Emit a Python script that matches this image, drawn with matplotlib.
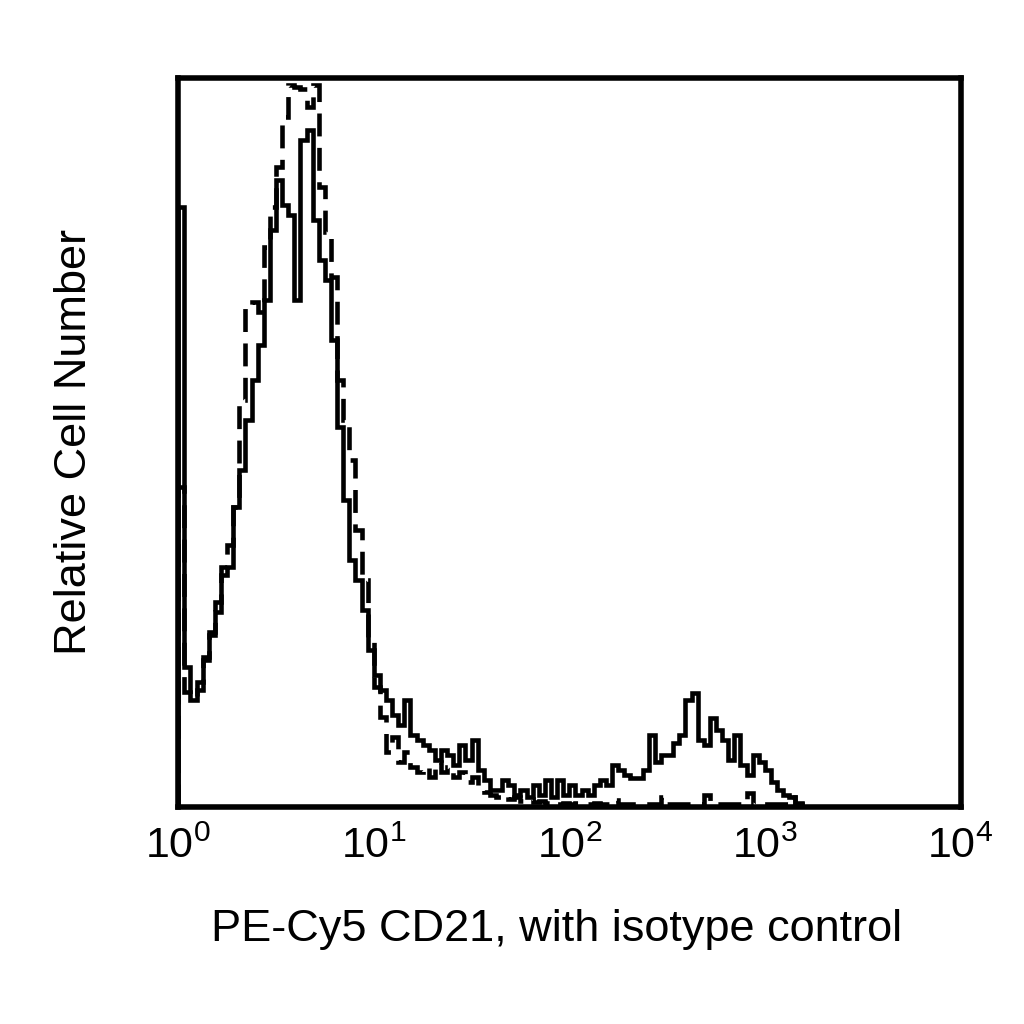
import numpy as np
import matplotlib
matplotlib.use("Agg")
import matplotlib.pyplot as plt

plt.rcParams['font.family'] = ['Liberation Sans', 'DejaVu Sans']
plt.rcParams['mathtext.fontset'] = 'custom'
plt.rcParams['mathtext.rm'] = 'Liberation Sans'

# 128 channels over 4 decades (relative counts)
cd21 = [600, 140, 107, 117, 147, 172, 195, 232, 240, 300,
        337, 387, 427, 462, 507, 577, 627, 602, 592, 507,
        667, 677, 587, 547, 527, 467, 380, 307, 247, 227,
        197, 157, 132, 117, 107, 92, 82, 107, 72, 67,
        62, 57, 47, 57, 52, 42, 62, 47, 67, 37,
        27, 17, 17, 27, 22, 12, 17, 10, 22, 12,
        27, 10, 27, 12, 22, 12, 17, 12, 22, 27,
        22, 42, 37, 32, 29, 29, 37, 72, 45, 52,
        52, 64, 72, 107, 114, 67, 62, 89, 77, 67,
        47, 72, 42, 32, 52, 45, 37, 25, 17, 12,
        10, 4] + [0] * 26

isotype = [320, 115, 110, 125, 150, 175, 205, 240, 262, 300,
           407, 500, 505, 495, 560, 600, 640, 690, 722, 720,
           718, 700, 722, 620, 575, 530, 427, 387, 347, 277,
           227, 170, 120, 90, 55, 70, 45, 55, 40, 35,
           40, 30, 45, 35, 40, 30, 35, 25, 30, 20,
           15, 12, 10, 12, 8, 10, 6, 8, 5, 6,
           4, 5, 3, 4, 3, 4, 3, 3, 4, 3,
           3, 7, 3, 3, 3, 3, 3, 3, 3, 10,
           3, 3, 3, 3, 3, 3, 12, 3, 3, 3,
           3, 3, 3, 14, 3, 3, 3, 3, 3, 3,
           10, 3] + [0] * 26

edges = np.logspace(0, 4, len(cd21) + 1)
xticks = [1, 10, 100, 1000, 10000]
xticklabels = ['$10^0$', '$10^1$', '$10^2$', '$10^3$', '$10^4$']

fig = plt.figure(figsize=(10.24, 10.24), dpi=100)
ax = fig.add_axes([0.174, 0.212, 0.764, 0.712])

ax.stairs(isotype, edges, color='black', linewidth=3.3, linestyle=(0, (5, 2.5)))
ax.stairs(cd21, edges, color='black', linewidth=3.3)

ax.set_xscale('log')
ax.set_xlim(1, 10000)
ax.set_ylim(0, 729)
ax.set_xticks(xticks)
ax.set_xticklabels(xticklabels, fontsize=31)
ax.minorticks_off()
ax.set_yticks([])
ax.tick_params(axis='x', length=0, pad=14)
for s in ax.spines.values():
    s.set_linewidth(4)

ax.set_xlabel('PE-Cy5 CD21, with isotype control', fontsize=32.5)
ax.xaxis.set_label_coords(0.484, -0.14)
ax.set_ylabel('Relative Cell Number', fontsize=32.5, labelpad=60)

fig.savefig('out.png', dpi=100, facecolor='white')
